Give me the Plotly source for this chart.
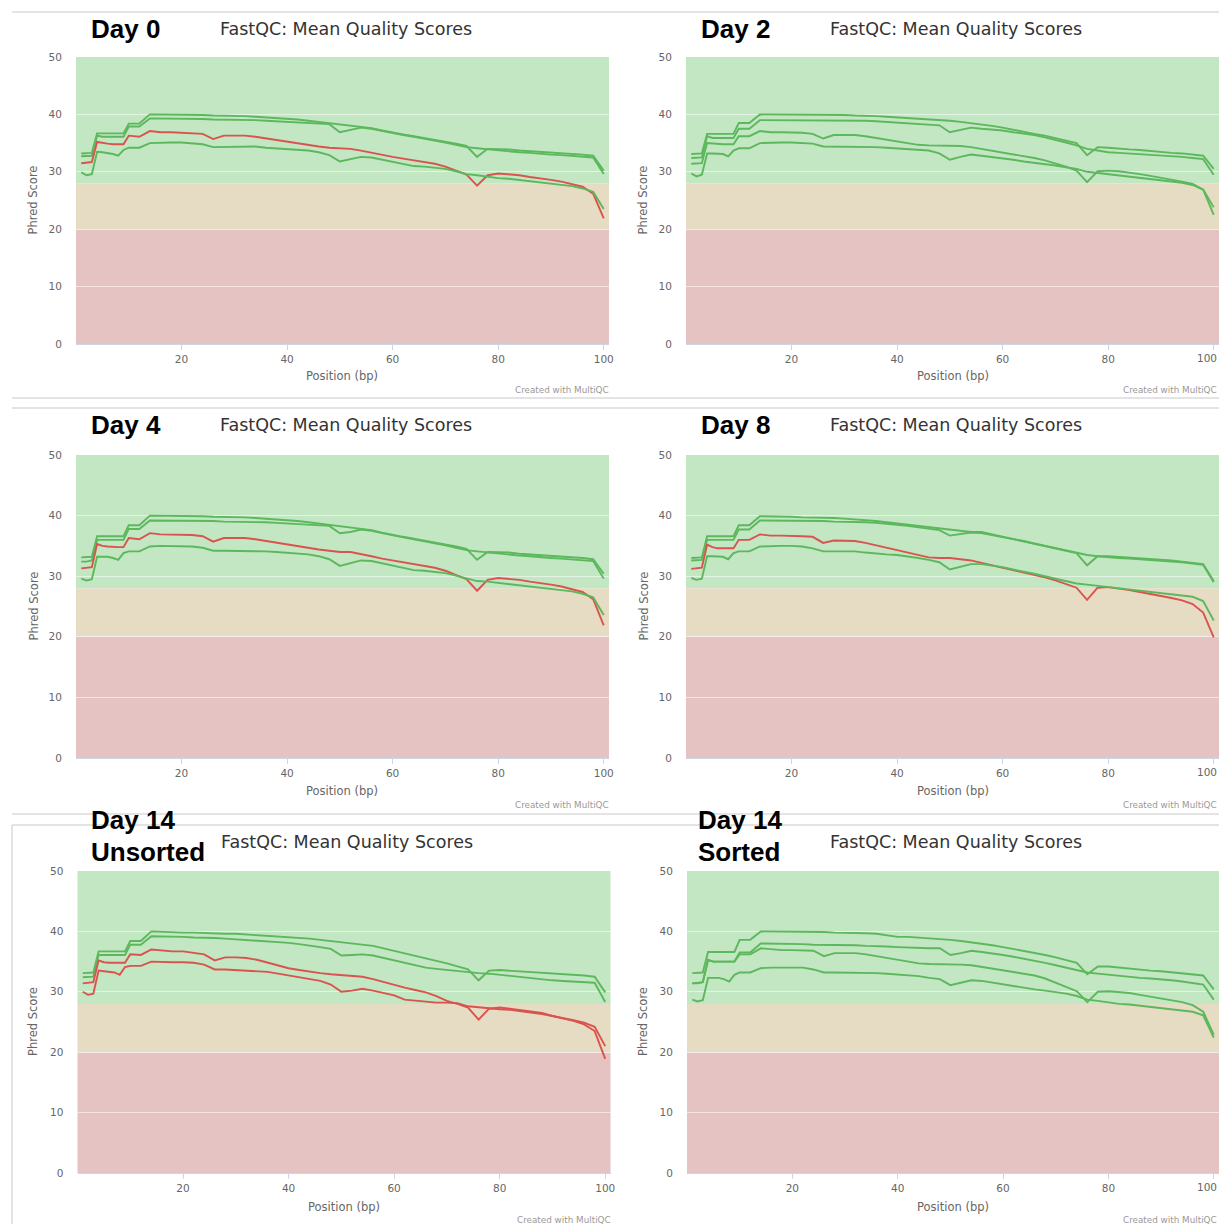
import plotly.graph_objects as go

W, H = 1219, 1224

# FastQC per-base positions: single bases 1-9, then 2 bp bins reported at their start
positions = list(range(1, 10)) + list(range(10, 101, 2))
x_ticks = [20, 40, 60, 80, 100]

# ---- Day 0 ----
day0_a = [33.2, 33.2, 33.3, 36.7, 36.7, 36.7, 36.7, 36.7, 36.7, 38.4, 38.4,
          40.0, 40.0, 40.0, 39.9, 39.9, 39.9, 39.8, 39.8, 39.7, 39.7,
          39.6, 39.5, 39.4, 39.3, 39.1, 38.9, 38.7, 38.5, 38.2, 38.0,
          37.8, 37.6, 37.2, 36.8, 36.5, 36.2, 35.9, 35.6, 35.3, 34.9,
          34.5, 32.6, 34.0, 34.0, 33.9, 33.7, 33.6, 33.5, 33.4, 33.3,
          33.2, 33.0, 32.8, 30.2]
day0_b = [32.7, 32.7, 32.8, 36.3, 36.1, 36.1, 36.1, 36.1, 36.1, 37.9, 37.9,
          39.3, 39.3, 39.3, 39.2, 39.2, 39.2, 39.1, 39.1, 39.0, 39.0,
          39.0, 38.9, 38.8, 38.7, 38.6, 38.5, 38.4, 38.3, 36.9, 37.3,
          37.7, 37.5, 37.1, 36.7, 36.4, 36.1, 35.8, 35.5, 35.1, 34.7,
          34.3, 34.1, 33.9, 33.8, 33.6, 33.4, 33.3, 33.1, 33.0, 32.9,
          32.8, 32.7, 32.5, 29.6]
day0_c = [31.5, 31.6, 31.7, 35.2, 35.0, 34.9, 34.8, 34.8, 34.8, 36.3, 36.1,
          37.1, 36.9, 36.9, 36.8, 36.8, 36.6, 35.7, 36.3, 36.3, 36.3,
          36.1, 35.8, 35.5, 35.2, 34.9, 34.6, 34.4, 34.2, 34.1, 34.0,
          33.7, 33.3, 32.9, 32.6, 32.3, 32.0, 31.8, 31.4, 30.9, 30.2,
          29.5, 27.6, 29.4, 29.7, 29.6, 29.4, 29.1, 28.9, 28.6, 28.3,
          27.9, 27.4, 26.2, 21.9]
day0_d = [29.9, 29.4, 29.6, 33.5, 33.4, 33.3, 33.1, 32.8, 33.8, 34.2, 34.2,
          35.0, 35.1, 35.1, 35.1, 35.0, 34.8, 34.3, 34.3, 34.3, 34.3,
          34.4, 34.2, 34.1, 34.0, 33.9, 33.7, 33.4, 32.9, 31.8, 32.2,
          32.6, 32.5, 32.1, 31.7, 31.3, 31.0, 30.9, 30.7, 30.5, 30.1,
          29.6, 29.4, 29.1, 28.9, 28.8, 28.6, 28.4, 28.2, 28.0, 27.8,
          27.5, 27.1, 26.5, 23.5]

# ---- Day 2 ----
day2_a = [33.1, 33.1, 33.2, 36.6, 36.6, 36.6, 36.6, 36.6, 36.6, 38.5, 38.5,
          40.0, 40.0, 40.0, 40.0, 39.9, 39.9, 39.9, 39.9, 39.9, 39.8,
          39.8, 39.7, 39.6, 39.5, 39.4, 39.3, 39.1, 39.0, 38.9, 38.7,
          38.5, 38.3, 38.0, 37.7, 37.3, 37.0, 36.6, 36.3, 35.9, 35.5,
          35.0, 32.9, 34.3, 34.2, 34.0, 33.9, 33.8, 33.6, 33.4, 33.3,
          33.2, 33.0, 32.8, 30.5]
day2_b = [32.4, 32.4, 32.5, 36.2, 35.9, 35.9, 35.9, 35.9, 35.9, 37.5, 37.5,
          39.0, 39.0, 39.0, 39.0, 39.0, 39.0, 39.0, 39.0, 39.0, 38.9,
          38.9, 38.8, 38.7, 38.6, 38.5, 38.4, 38.3, 38.1, 36.9, 37.3,
          37.7, 37.5, 37.4, 37.2, 36.9, 36.7, 36.4, 36.0, 35.6, 35.1,
          34.6, 34.0, 33.7, 33.4, 33.3, 33.2, 33.1, 33.0, 32.9, 32.7,
          32.6, 32.4, 32.2, 29.5]
day2_c = [31.4, 31.5, 31.5, 35.0, 34.9, 34.9, 34.8, 34.8, 34.8, 36.2, 36.2,
          37.1, 36.9, 36.9, 36.9, 36.8, 36.6, 35.8, 36.4, 36.4, 36.4,
          36.2, 35.9, 35.6, 35.2, 34.9, 34.7, 34.6, 34.6, 34.6, 34.5,
          34.3, 34.0, 33.7, 33.4, 33.1, 32.8, 32.4, 32.0, 31.5, 30.9,
          30.2, 28.2, 30.1, 30.2, 30.1, 29.9, 29.6, 29.3, 29.0, 28.7,
          28.3, 27.9, 26.9, 22.5]
day2_d = [29.7, 29.2, 29.5, 33.2, 33.2, 33.2, 33.1, 32.7, 33.7, 34.1, 34.1,
          35.0, 35.1, 35.1, 35.1, 35.0, 34.9, 34.4, 34.4, 34.4, 34.4,
          34.4, 34.3, 34.2, 34.1, 34.0, 33.9, 33.7, 33.2, 32.1, 32.6,
          33.0, 32.8, 32.6, 32.4, 32.1, 31.8, 31.6, 31.4, 31.1, 30.8,
          30.5, 30.0, 29.8, 29.5, 29.4, 29.2, 29.0, 28.8, 28.6, 28.4,
          28.1, 27.7, 26.9, 23.8]

# ---- Day 4 ----
day4_a = [33.1, 33.1, 33.2, 36.6, 36.6, 36.6, 36.6, 36.6, 36.6, 38.4, 38.4,
          40.0, 40.0, 40.0, 39.9, 39.9, 39.9, 39.8, 39.8, 39.7, 39.7,
          39.6, 39.5, 39.4, 39.3, 39.1, 38.9, 38.7, 38.5, 38.2, 38.0,
          37.8, 37.6, 37.2, 36.8, 36.5, 36.2, 35.9, 35.6, 35.3, 34.9,
          34.5, 32.7, 34.0, 34.0, 33.9, 33.7, 33.6, 33.5, 33.4, 33.3,
          33.2, 33.0, 32.8, 30.4]
day4_b = [32.4, 32.4, 32.6, 36.0, 36.0, 36.0, 36.0, 36.0, 36.0, 37.8, 37.8,
          39.2, 39.2, 39.2, 39.2, 39.1, 39.1, 39.1, 39.0, 39.0, 39.0,
          38.9, 38.9, 38.8, 38.7, 38.6, 38.5, 38.4, 38.3, 37.1, 37.3,
          37.7, 37.5, 37.1, 36.7, 36.4, 36.1, 35.8, 35.5, 35.1, 34.7,
          34.3, 34.1, 33.9, 33.8, 33.6, 33.4, 33.3, 33.1, 33.0, 32.9,
          32.8, 32.7, 32.5, 29.6]
day4_c = [31.3, 31.4, 31.5, 35.3, 35.0, 34.9, 34.8, 34.8, 34.8, 36.3, 36.1,
          37.1, 36.9, 36.9, 36.8, 36.8, 36.6, 35.7, 36.3, 36.3, 36.3,
          36.1, 35.8, 35.5, 35.2, 34.9, 34.6, 34.4, 34.2, 34.0, 34.0,
          33.7, 33.3, 32.9, 32.6, 32.3, 32.0, 31.8, 31.4, 30.9, 30.2,
          29.5, 27.6, 29.4, 29.7, 29.6, 29.4, 29.1, 28.9, 28.6, 28.3,
          27.9, 27.4, 26.2, 21.9]
day4_d = [29.6, 29.3, 29.5, 33.2, 33.2, 33.2, 33.0, 32.7, 33.8, 34.1, 34.1,
          34.9, 35.0, 35.0, 35.0, 34.9, 34.7, 34.2, 34.2, 34.2, 34.2,
          34.2, 34.1, 34.0, 33.9, 33.8, 33.6, 33.3, 32.8, 31.7, 32.1,
          32.6, 32.5, 32.1, 31.7, 31.3, 31.0, 30.9, 30.7, 30.5, 30.1,
          29.6, 29.2, 29.1, 28.9, 28.8, 28.6, 28.4, 28.2, 28.0, 27.8,
          27.5, 27.1, 26.5, 23.6]

# ---- Day 8 ----
day8_a = [33.0, 33.0, 33.1, 36.6, 36.6, 36.6, 36.6, 36.6, 36.6, 38.4, 38.4,
          39.9, 39.9, 39.8, 39.8, 39.7, 39.7, 39.6, 39.6, 39.5, 39.4,
          39.2, 39.1, 38.9, 38.7, 38.5, 38.3, 38.1, 37.9, 37.6, 37.4,
          37.3, 37.3, 36.9, 36.6, 36.2, 35.8, 35.4, 35.0, 34.6, 34.2,
          33.8, 31.8, 33.3, 33.3, 33.2, 33.1, 33.0, 32.8, 32.7, 32.6,
          32.4, 32.2, 32.0, 29.2]
day8_b = [32.6, 32.6, 32.7, 36.0, 36.0, 36.0, 36.0, 36.0, 36.0, 37.7, 37.7,
          39.2, 39.2, 39.2, 39.1, 39.1, 39.1, 39.1, 39.0, 39.0, 38.9,
          38.9, 38.8, 38.7, 38.5, 38.3, 38.1, 37.9, 37.6, 36.7, 37.0,
          37.2, 37.1, 36.8, 36.4, 36.1, 35.8, 35.4, 35.0, 34.6, 34.2,
          33.8, 33.5, 33.3, 33.1, 33.0, 32.9, 32.8, 32.7, 32.6, 32.5,
          32.3, 32.1, 31.9, 29.0]
day8_c = [31.2, 31.3, 31.4, 35.2, 34.8, 34.6, 34.6, 34.6, 34.6, 36.0, 36.0,
          36.9, 36.7, 36.7, 36.7, 36.6, 36.5, 35.5, 35.9, 35.9, 35.8,
          35.5, 35.1, 34.7, 34.3, 33.9, 33.4, 33.1, 33.0, 33.0, 32.8,
          32.6, 32.2, 31.8, 31.5, 31.1, 30.7, 30.3, 29.8, 29.3, 28.7,
          28.1, 26.1, 28.1, 28.2, 28.0, 27.7, 27.4, 27.1, 26.8, 26.4,
          26.0, 25.4, 24.0, 19.9]
day8_d = [29.7, 29.4, 29.6, 33.3, 33.3, 33.3, 33.2, 32.8, 33.8, 34.1, 34.1,
          34.9, 35.0, 35.0, 35.0, 34.9, 34.6, 34.1, 34.1, 34.1, 34.1,
          33.9, 33.7, 33.6, 33.5, 33.3, 33.0, 32.7, 32.3, 31.1, 31.5,
          32.0, 32.0, 31.8, 31.5, 31.1, 30.8, 30.4, 30.0, 29.6, 29.2,
          28.8, 28.6, 28.4, 28.2, 28.1, 27.9, 27.7, 27.5, 27.3, 27.1,
          26.9, 26.6, 25.9, 22.7]

# ---- Day 14, unsorted ----
day14u_a = [33.1, 33.1, 33.2, 36.7, 36.7, 36.7, 36.7, 36.7, 36.7, 38.4, 38.4,
            40.0, 39.9, 39.9, 39.8, 39.8, 39.7, 39.7, 39.6, 39.6, 39.5,
            39.4, 39.3, 39.2, 39.1, 38.9, 38.8, 38.6, 38.4, 38.2, 38.0,
            37.8, 37.6, 37.2, 36.8, 36.4, 36.0, 35.5, 35.1, 34.7, 34.2,
            33.7, 31.9, 33.5, 33.6, 33.5, 33.4, 33.3, 33.2, 33.1, 33.0,
            32.8, 32.7, 32.5, 29.9]
day14u_b = [32.4, 32.4, 32.5, 36.1, 36.1, 36.1, 36.1, 36.1, 36.1, 37.8, 37.8,
            39.2, 39.2, 39.1, 39.1, 39.0, 39.0, 38.9, 38.8, 38.7, 38.6,
            38.5, 38.4, 38.2, 38.1, 37.9, 37.7, 37.4, 37.1, 36.0, 36.1,
            36.2, 36.0, 35.6, 35.1, 34.7, 34.3, 34.0, 33.8, 33.6, 33.4,
            33.3, 33.1, 33.0, 32.8, 32.7, 32.5, 32.3, 32.1, 31.9, 31.8,
            31.7, 31.6, 31.5, 28.3]
day14u_c = [31.4, 31.5, 31.6, 35.2, 34.9, 34.8, 34.8, 34.8, 34.8, 36.2, 36.1,
            37.0, 36.8, 36.7, 36.7, 36.5, 36.2, 35.2, 35.7, 35.7, 35.6,
            35.3, 34.8, 34.4, 33.9, 33.6, 33.3, 33.1, 32.9, 32.8, 32.7,
            32.5, 32.1, 31.6, 31.1, 30.7, 30.3, 29.9, 29.3, 28.5, 28.0,
            27.4, 25.4, 27.2, 27.4, 27.2, 27.0, 26.8, 26.5, 26.0, 25.7,
            25.3, 24.9, 24.2, 21.0]
day14u_d = [30.0, 29.5, 29.7, 33.5, 33.4, 33.3, 33.2, 32.8, 34.1, 34.3, 34.3,
            35.0, 34.9, 34.9, 34.9, 34.8, 34.5, 33.7, 33.7, 33.6, 33.6,
            33.5, 33.3, 33.0, 32.7, 32.4, 32.1, 31.8, 31.2, 30.0, 30.2,
            30.5, 30.2, 29.8, 29.4, 28.7, 28.5, 28.3, 28.2, 28.2, 28.1,
            27.6, 27.4, 27.2, 27.1, 27.0, 26.8, 26.6, 26.3, 26.0, 25.6,
            25.2, 24.6, 23.5, 18.9]

# ---- Day 14, sorted ----
day14s_a = [33.1, 33.1, 33.2, 36.6, 36.6, 36.6, 36.6, 36.6, 36.6, 38.6, 38.6,
            40.0, 40.0, 40.0, 40.0, 39.9, 39.9, 39.9, 39.8, 39.8, 39.7,
            39.7, 39.6, 39.4, 39.1, 39.1, 39.0, 38.9, 38.8, 38.6, 38.4,
            38.2, 38.0, 37.7, 37.4, 37.1, 36.8, 36.5, 36.1, 35.7, 35.2,
            34.8, 32.9, 34.2, 34.2, 34.0, 33.8, 33.7, 33.5, 33.4, 33.2,
            33.0, 32.9, 32.7, 30.4]
day14s_b = [31.4, 31.4, 31.6, 35.3, 35.0, 35.0, 35.0, 35.0, 35.0, 36.5, 36.5,
            38.0, 38.0, 38.0, 37.9, 37.9, 37.8, 37.8, 37.8, 37.7, 37.7,
            37.6, 37.6, 37.5, 37.4, 37.3, 37.3, 37.2, 37.2, 36.1, 36.4,
            36.8, 36.6, 36.4, 36.1, 35.8, 35.5, 35.2, 34.8, 34.4, 34.0,
            33.6, 33.2, 33.0, 32.8, 32.6, 32.5, 32.3, 32.2, 32.1, 31.9,
            31.7, 31.5, 31.2, 28.7]
day14s_c = [31.4, 31.5, 31.6, 35.2, 35.0, 35.0, 35.0, 35.0, 35.0, 36.2, 36.2,
            37.2, 37.0, 36.9, 36.9, 36.9, 36.8, 35.9, 36.4, 36.4, 36.4,
            36.2, 35.9, 35.6, 35.2, 34.9, 34.7, 34.6, 34.6, 34.6, 34.5,
            34.4, 34.1, 33.9, 33.6, 33.3, 33.0, 32.7, 32.2, 31.5, 30.8,
            30.1, 28.3, 30.0, 30.1, 30.0, 29.8, 29.5, 29.2, 28.9, 28.6,
            28.3, 27.8, 26.7, 22.9]
day14s_d = [28.7, 28.4, 28.6, 32.3, 32.3, 32.3, 32.1, 31.7, 32.8, 33.2, 33.2,
            33.9, 34.0, 34.0, 34.0, 34.0, 33.7, 33.2, 33.2, 33.2, 33.2,
            33.2, 33.1, 33.0, 32.9, 32.8, 32.6, 32.3, 32.1, 31.1, 31.5,
            31.9, 31.8, 31.5, 31.2, 30.9, 30.7, 30.4, 30.2, 30.0, 29.7,
            29.3, 28.7, 28.5, 28.2, 28.0, 27.9, 27.7, 27.5, 27.3, 27.1,
            26.9, 26.7, 26.1, 22.4]

STATUS_COLOURS = {"pass": "#5cb85c", "fail": "#d9534f"}
BANDS = [(28, 50, "#c3e6c3"), (20, 28, "#e6dcc3"), (0, 20, "#e6c3c3")]
FONT = "DejaVu Sans"
LABEL_FONT = "Liberation Sans"
TICK_FONT = dict(family=FONT, size=10.5, color="#666666")

panels = [
    dict(labels=["Day 0"], series=[day0_a, day0_b, day0_c, day0_d],
         status=["pass", "pass", "fail", "pass"], row=0, col=0),
    dict(labels=["Day 2"], series=[day2_a, day2_b, day2_c, day2_d],
         status=["pass", "pass", "pass", "pass"], row=0, col=1),
    dict(labels=["Day 4"], series=[day4_a, day4_b, day4_c, day4_d],
         status=["pass", "pass", "fail", "pass"], row=1, col=0),
    dict(labels=["Day 8"], series=[day8_a, day8_b, day8_c, day8_d],
         status=["pass", "pass", "fail", "pass"], row=1, col=1),
    dict(labels=["Day 14", "Unsorted"], series=[day14u_a, day14u_b, day14u_c, day14u_d],
         status=["pass", "pass", "fail", "fail"], row=2, col=0),
    dict(labels=["Day 14", "Sorted"], series=[day14s_a, day14s_b, day14s_c, day14s_d],
         status=["pass", "pass", "pass", "pass"], row=2, col=1),
]

# pixel geometry of each row / column
ROW_GEOM = [
    dict(top=57, bottom=344, title_y=29, label_ys=[29], xtitle_y=376, credit_y=390),
    dict(top=455, bottom=758, title_y=425, label_ys=[425], xtitle_y=791, credit_y=805),
    dict(top=871, bottom=1173, title_y=842, label_ys=[820, 852], xtitle_y=1207, credit_y=1220),
]
COL_GEOM = [
    dict(left=76, right=609, title_x=218, label_x=89, ytitle_x=33),
    dict(left=686, right=1219, title_x=828, label_x=699, ytitle_x=643),
]


def fx(px):
    return px / W


def fy(py):
    return 1 - py / H


fig = go.Figure()
shapes = []
annotations = []
layout_axes = {}

for i, p in enumerate(panels, start=1):
    rg = ROW_GEOM[p["row"]]
    cg = dict(COL_GEOM[p["col"]])
    if p["row"] == 2:
        if p["col"] == 0:
            cg.update(left=77.5, right=610.5, title_x=219)
        else:
            cg.update(left=687, label_x=696)
    at_page_edge = cg["right"] >= W
    xa = "x" if i == 1 else f"x{i}"
    ya = "y" if i == 1 else f"y{i}"
    xkey = "xaxis" if i == 1 else f"xaxis{i}"
    ykey = "yaxis" if i == 1 else f"yaxis{i}"

    # the last tick label of a panel touching the page edge is placed separately
    tick_text = [str(t) for t in x_ticks]
    if at_page_edge:
        tick_text[-1] = ""

    layout_axes[xkey] = dict(
        domain=[fx(cg["left"]), min(1.0, fx(cg["right"]))], anchor=ya,
        range=[0, 101], tickvals=x_ticks, ticktext=tick_text,
        showgrid=False, zeroline=False, showline=True, linecolor="#ccd6eb",
        linewidth=1, ticks="outside", ticklen=5, tickcolor="#ccd6eb",
        tickfont=TICK_FONT, fixedrange=True, automargin=False,
    )
    layout_axes[ykey] = dict(
        domain=[fy(rg["bottom"]), fy(rg["top"])], anchor=xa,
        range=[0, 50], tickvals=[0, 10, 20, 30, 40, 50],
        showgrid=True, gridcolor="rgba(255,255,255,0.55)", gridwidth=1,
        zeroline=False, showline=False, ticks="outside", ticklen=11,
        tickcolor="rgba(0,0,0,0)",
        tickfont=TICK_FONT, fixedrange=True, automargin=False,
    )

    if at_page_edge:
        annotations.append(dict(
            text=str(x_ticks[-1]), x=1.0, y=fy(rg["bottom"] + 14),
            xref="paper", yref="paper", xanchor="right", yanchor="middle",
            showarrow=False, font=TICK_FONT,
        ))

    for y0, y1, colour in BANDS:
        shapes.append(dict(type="rect", xref=f"{xa} domain", yref=ya,
                           x0=0, x1=1, y0=y0, y1=y1, fillcolor=colour,
                           line=dict(width=0), layer="below"))

    for values, status in zip(p["series"], p["status"]):
        fig.add_trace(go.Scatter(
            x=positions, y=values, mode="lines", xaxis=xa, yaxis=ya,
            line=dict(color=STATUS_COLOURS[status], width=1.9),
            showlegend=False, hoverinfo="skip",
        ))

    for text, ly in zip(p["labels"], rg["label_ys"]):
        annotations.append(dict(
            text=f"<b>{text}</b>", x=fx(cg["label_x"]), y=fy(ly),
            xref="paper", yref="paper", xanchor="left", yanchor="middle",
            showarrow=False, font=dict(family=LABEL_FONT, size=26, color="#000000"),
        ))
    annotations.append(dict(
        text="FastQC: Mean Quality Scores", x=fx(cg["title_x"]), y=fy(rg["title_y"]),
        xref="paper", yref="paper", xanchor="left", yanchor="middle",
        showarrow=False, font=dict(family=FONT, size=17.5, color="#333333"),
    ))
    annotations.append(dict(
        text="Position (bp)", x=fx((cg["left"] + cg["right"]) / 2), y=fy(rg["xtitle_y"]),
        xref="paper", yref="paper", xanchor="center", yanchor="middle",
        showarrow=False, font=dict(family=FONT, size=11.5, color="#666666"),
    ))
    annotations.append(dict(
        text="Phred Score", x=fx(cg["ytitle_x"]), y=fy((rg["top"] + rg["bottom"]) / 2),
        xref="paper", yref="paper", xanchor="center", yanchor="middle",
        textangle=-90, showarrow=False,
        font=dict(family=FONT, size=11.5, color="#666666"),
    ))
    annotations.append(dict(
        text="Created with MultiQC", x=fx(min(cg["right"] + 2, W)), y=fy(rg["credit_y"]),
        xref="paper", yref="paper", xanchor="right", yanchor="middle",
        showarrow=False, font=dict(family=FONT, size=8.8, color="#999999"),
    ))

# section separators between the report panels
SEP = "#c8c8c8"
for y in (12, 398, 408, 814, 825):
    shapes.append(dict(type="line", xref="paper", yref="paper",
                       x0=fx(12), x1=1, y0=fy(y), y1=fy(y),
                       line=dict(color=SEP, width=1), layer="above"))
shapes.append(dict(type="line", xref="paper", yref="paper",
                   x0=fx(12), x1=fx(12), y0=fy(825), y1=0,
                   line=dict(color=SEP, width=1), layer="above"))

fig.update_layout(
    width=W, height=H,
    margin=dict(l=0, r=0, t=0, b=0, pad=0, autoexpand=False),
    paper_bgcolor="#ffffff", plot_bgcolor="rgba(0,0,0,0)",
    shapes=shapes, annotations=annotations, showlegend=False,
    **layout_axes,
)

fig.write_html("out.html")
